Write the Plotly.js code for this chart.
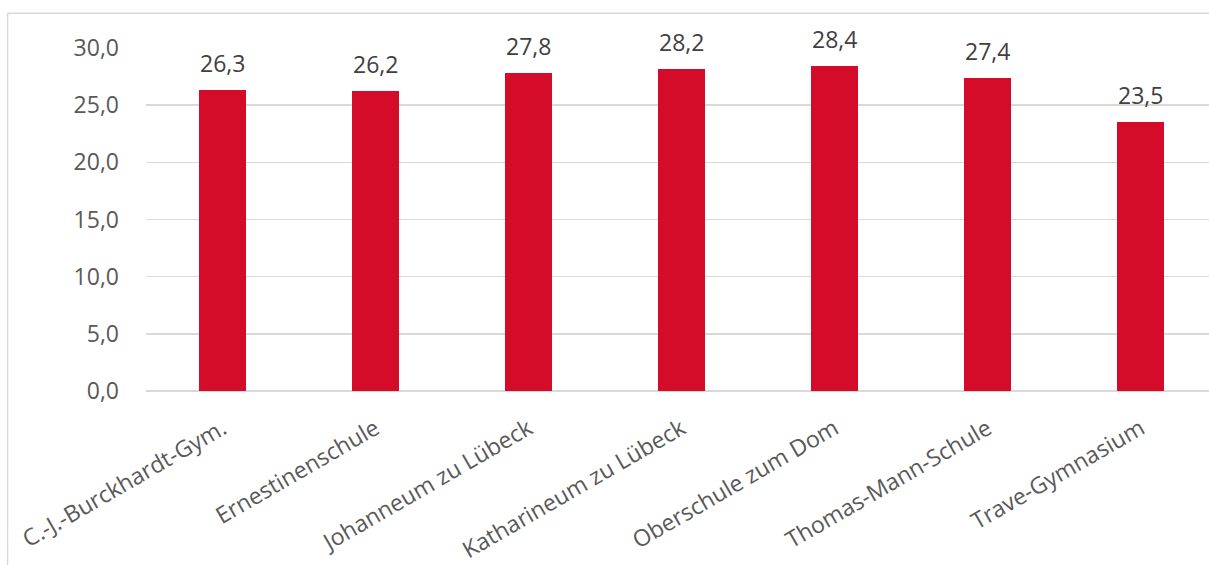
<!DOCTYPE html>
<html>
<head>
<meta charset="utf-8">
<script src="https://cdn.plot.ly/plotly-3.0.1.min.js"></script>
<style>html,body{margin:0;padding:0;background:#fff;}#chart{width:1209px;height:565px;}</style>
</head>
<body>
<div id="chart"></div>
<script>
const schools = ["C.-J.-Burckhardt-Gym.", "Ernestinenschule", "Johanneum zu Lübeck", "Katharineum zu Lübeck", "Oberschule zum Dom", "Thomas-Mann-Schule", "Trave-Gymnasium"];
const values = [26.3, 26.2, 27.8, 28.2, 28.4, 27.4, 23.5];
const yTicks = [0, 5, 10, 15, 20, 25, 30];

const fmt = v => v.toFixed(1).replace('.', ',');

const trace = {
  type: 'bar',
  x: schools,
  y: values,
  width: 0.31,
  marker: {color: '#D40C29', line: {width: 0}},
  hoverinfo: 'x+y'
};

const annotations = schools.map((s, i) => ({
  x: s, y: values[i], xref: 'x', yref: 'y',
  text: fmt(values[i]), showarrow: false,
  yanchor: 'bottom', yshift: 9,
  font: {family: 'Open Sans', size: 23, color: '#404040'}
}));

const plotH = 565 - 47.7 - 174.3;
const plotW = 1209 - 145.5;
const borderTop = (390.7 - 13) / plotH;
const borderLeft = (7 - 145.5) / plotW;

const layout = {
  width: 1209, height: 565,
  margin: {l: 145.5, r: 0, t: 47.7, b: 174.3},
  paper_bgcolor: '#fff', plot_bgcolor: '#fff',
  font: {family: 'Open Sans', color: '#595959', size: 23},
  showlegend: false,
  bargap: 0,
  xaxis: {
    type: 'category',
    range: [-0.5, 6.447],
    tickangle: -30,
    showgrid: false, zeroline: false, showline: false,
    ticks: '',
    ticklabelstandoff: 19,
    tickfont: {family: 'Open Sans', size: 23, color: '#595959'}
  },
  yaxis: {
    range: [0, 30],
    tickvals: yTicks,
    ticktext: yTicks.map(fmt),
    showgrid: true, gridcolor: '#d9d9d9', gridwidth: 1.4,
    zeroline: true, zerolinecolor: '#d9d9d9', zerolinewidth: 2,
    showline: false, ticks: '',
    ticklabelstandoff: 26,
    tickfont: {family: 'Open Sans', size: 23, color: '#595959'}
  },
  annotations: annotations,
  shapes: [
    {type: 'line', xref: 'paper', yref: 'paper', x0: borderLeft, x1: 1.01, y0: borderTop, y1: borderTop, line: {color: '#d9d9d9', width: 1.4}},
    {type: 'line', xref: 'paper', yref: 'paper', x0: borderLeft, x1: borderLeft, y0: borderTop, y1: -0.6, line: {color: '#d9d9d9', width: 1.4}}
  ]
};

Plotly.newPlot('chart', [trace], layout, {displayModeBar: false, staticPlot: true});
</script>
</body>
</html>
